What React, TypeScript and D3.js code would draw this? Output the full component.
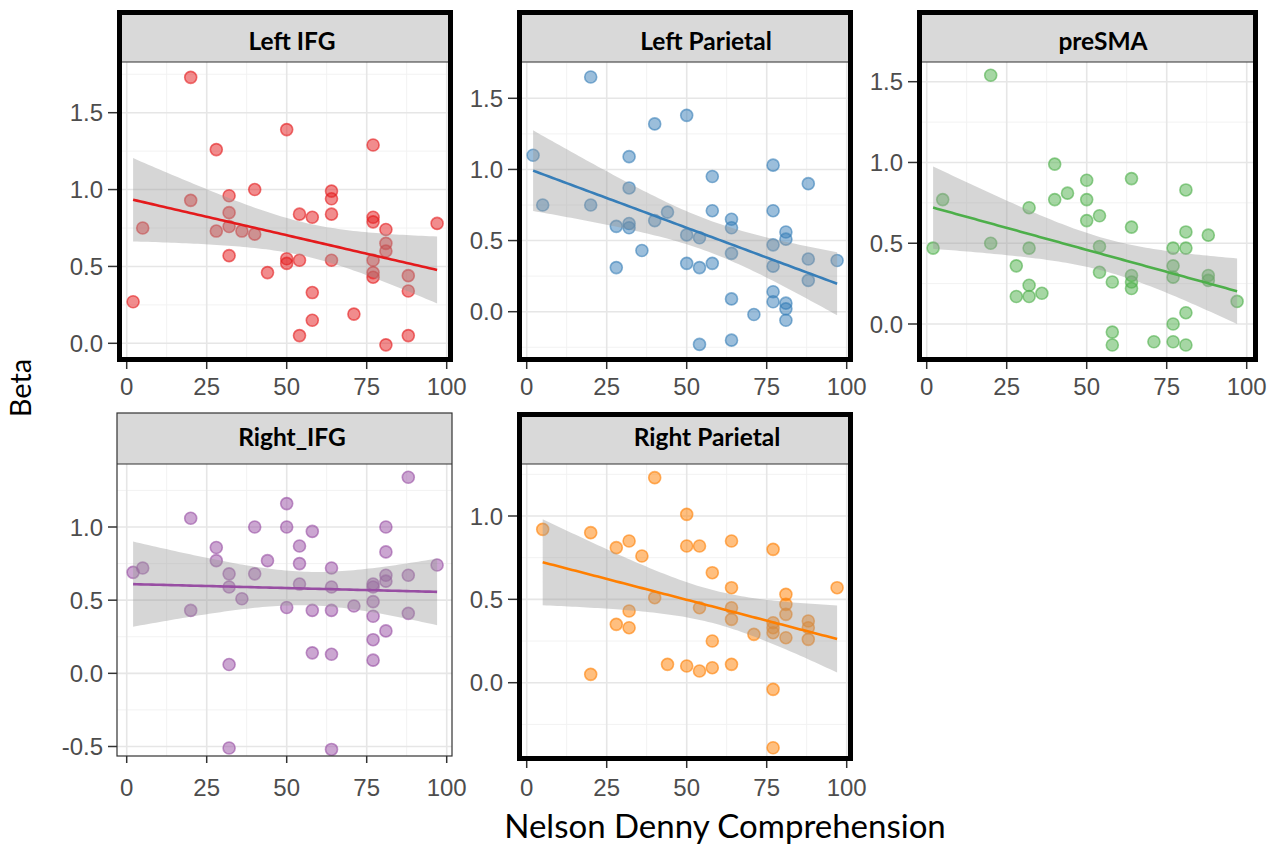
import React from "react";
import * as d3 from "d3";

// Nelson Denny percentile (x) and beta (y) for each region
const leftIfgX = [2, 5, 20, 20, 28, 28, 32, 32, 32, 32, 36, 40, 40, 44, 50, 50, 50, 54, 54, 54, 58, 58, 58, 64, 64, 64, 64, 71, 77, 77, 77, 77, 77, 77, 81, 81, 81, 81, 88, 88, 88, 97];
const leftIfgY = [0.27, 0.75, 1.73, 0.93, 1.26, 0.73, 0.96, 0.85, 0.76, 0.57, 0.73, 1.0, 0.71, 0.46, 1.39, 0.55, 0.52, 0.84, 0.54, 0.05, 0.82, 0.33, 0.15, 0.99, 0.94, 0.84, 0.54, 0.19, 1.29, 0.82, 0.79, 0.54, 0.46, 0.43, 0.74, 0.65, 0.6, -0.01, 0.44, 0.34, 0.05, 0.78];

const leftParX = [2, 5, 20, 20, 28, 28, 32, 32, 32, 32, 36, 40, 40, 44, 50, 50, 50, 54, 54, 54, 58, 58, 58, 64, 64, 64, 64, 64, 71, 77, 77, 77, 77, 77, 77, 81, 81, 81, 81, 81, 88, 88, 88, 97];
const leftParY = [1.1, 0.75, 1.65, 0.75, 0.6, 0.31, 1.09, 0.87, 0.62, 0.59, 0.43, 1.32, 0.64, 0.7, 1.38, 0.54, 0.34, 0.52, 0.31, -0.23, 0.95, 0.71, 0.34, 0.65, 0.59, 0.41, 0.09, -0.2, -0.02, 1.03, 0.71, 0.47, 0.32, 0.14, 0.07, 0.56, 0.51, 0.06, 0.02, -0.06, 0.9, 0.37, 0.22, 0.36];

const preSmaX = [2, 5, 20, 20, 28, 28, 32, 32, 32, 32, 36, 40, 40, 44, 50, 50, 50, 54, 54, 54, 58, 58, 58, 64, 64, 64, 64, 64, 71, 77, 77, 77, 77, 77, 81, 81, 81, 81, 81, 88, 88, 88, 97];
const preSmaY = [0.47, 0.77, 1.54, 0.5, 0.36, 0.17, 0.72, 0.47, 0.24, 0.17, 0.19, 0.99, 0.77, 0.81, 0.89, 0.77, 0.64, 0.67, 0.48, 0.32, 0.26, -0.05, -0.13, 0.9, 0.6, 0.3, 0.26, 0.22, -0.11, 0.47, 0.36, 0.29, 0.0, -0.11, 0.83, 0.57, 0.47, 0.07, -0.13, 0.55, 0.3, 0.27, 0.14];

const rightIfgX = [2, 5, 20, 20, 28, 28, 32, 32, 32, 32, 36, 40, 40, 44, 50, 50, 50, 54, 54, 54, 58, 58, 58, 64, 64, 64, 64, 64, 71, 77, 77, 77, 77, 77, 77, 81, 81, 81, 81, 81, 88, 88, 88, 97];
const rightIfgY = [0.69, 0.72, 1.06, 0.43, 0.86, 0.77, 0.68, 0.59, 0.06, -0.51, 0.51, 1.0, 0.68, 0.77, 1.16, 1.0, 0.45, 0.87, 0.75, 0.61, 0.97, 0.43, 0.14, 0.72, 0.59, 0.43, 0.13, -0.52, 0.46, 0.61, 0.59, 0.49, 0.39, 0.23, 0.09, 1.0, 0.83, 0.67, 0.63, 0.29, 1.34, 0.67, 0.41, 0.74];

const rightParX = [5, 20, 20, 28, 28, 32, 32, 32, 36, 40, 40, 44, 50, 50, 50, 54, 54, 54, 58, 58, 58, 64, 64, 64, 64, 64, 71, 77, 77, 77, 77, 77, 77, 81, 81, 81, 81, 88, 88, 88, 97];
const rightParY = [0.92, 0.9, 0.05, 0.81, 0.35, 0.85, 0.43, 0.33, 0.76, 1.23, 0.51, 0.11, 1.01, 0.82, 0.1, 0.82, 0.45, 0.07, 0.66, 0.25, 0.09, 0.85, 0.57, 0.45, 0.38, 0.11, 0.29, 0.8, 0.36, 0.33, 0.3, -0.04, -0.39, 0.53, 0.47, 0.41, 0.27, 0.37, 0.33, 0.26, 0.57];

const xTicks = [0, 25, 50, 75, 100];

const panels = [
  { name: "Left IFG", xs: leftIfgX, ys: leftIfgY, color: "#E41A1C", yTicks: [0, 0.5, 1.0, 1.5],
    box: [117, 10, 453, 362], thick: true, strip: 62, xPx: [126.7, 446.7], yDom: [0, 1.5], yPx: [343.3, 112.7], labelX: 292, labelY: 50, tickY: 395 },
  { name: "Left Parietal", xs: leftParX, ys: leftParY, color: "#377EB8", yTicks: [0, 0.5, 1.0, 1.5],
    box: [517, 10, 853, 362], thick: true, strip: 62, xPx: [526.7, 846.7], yDom: [0, 1.5], yPx: [311.7, 98.3], labelX: 706, labelY: 50, tickY: 395 },
  { name: "preSMA", xs: preSmaX, ys: preSmaY, color: "#4DAF4A", yTicks: [0, 0.5, 1.0, 1.5],
    box: [917, 10, 1258, 362], thick: true, strip: 62, xPx: [926.7, 1246.7], yDom: [0, 1.5], yPx: [324, 81.7], labelX: 1103, labelY: 50, tickY: 395 },
  { name: "Right_IFG", xs: rightIfgX, ys: rightIfgY, color: "#984EA3", yTicks: [-0.5, 0, 0.5, 1.0],
    box: [117, 413, 452, 756], thick: false, strip: 464, xPx: [126.7, 446.7], yDom: [-0.5, 1.0], yPx: [746.5, 527], labelX: 292, labelY: 446, tickY: 796 },
  { name: "Right Parietal", xs: rightParX, ys: rightParY, color: "#FF7F00", yTicks: [0, 0.5, 1.0],
    box: [517, 412, 853, 761], thick: true, strip: 464, xPx: [526.7, 846.7], yDom: [0, 1.0], yPx: [682.7, 516], labelX: 707, labelY: 446, tickY: 796 },
];

// lm fit with 95% confidence band, like geom_smooth(method = "lm")
function fitLm(xs, ys) {
  const n = xs.length;
  const mx = d3.mean(xs), my = d3.mean(ys);
  const sxx = d3.sum(xs, (x) => (x - mx) ** 2);
  const sxy = d3.sum(xs, (x, i) => (x - mx) * (ys[i] - my));
  const b = sxy / sxx, a = my - b * mx;
  const sse = d3.sum(xs, (x, i) => (ys[i] - a - b * x) ** 2);
  const s = Math.sqrt(sse / (n - 2));
  const df = n - 2, z = 1.96;
  const t = z + (z ** 3 + z) / (4 * df) + (5 * z ** 5 + 16 * z ** 3 + 3 * z) / (96 * df * df);
  const [x0, x1] = d3.extent(xs);
  const grid = d3.range(81).map((i) => x0 + ((x1 - x0) * i) / 80);
  return grid.map((x) => {
    const fit = a + b * x;
    const se = s * Math.sqrt(1 / n + (x - mx) ** 2 / sxx);
    return { x, fit, lo: fit - t * se, hi: fit + t * se };
  });
}

// plain hyphen for negatives, as R prints them
const tickFmt = (v) => v.toFixed(1);

function Panel({ p, idx }) {
  const [L, T, R, B] = p.box;
  const bw = p.thick ? 5 : 0;
  const inner = { l: L + bw, r: R - bw, t: p.strip, b: B - bw };
  const x = d3.scaleLinear().domain([0, 100]).range(p.xPx);
  const y = d3.scaleLinear().domain(p.yDom).range(p.yPx);
  const step = p.yTicks[1] - p.yTicks[0];
  const minorY = d3.range(p.yTicks[0] - step / 2, p.yTicks[p.yTicks.length - 1] + step, step);
  const minorX = [-12.5, 12.5, 37.5, 62.5, 87.5, 112.5];
  const band = fitLm(p.xs, p.ys);
  const area = d3.area().x((d) => x(d.x)).y0((d) => y(d.lo)).y1((d) => y(d.hi));
  const line = d3.line().x((d) => x(d.x)).y((d) => y(d.fit));
  const clipId = `clip${idx}`;
  const pts = p.xs.map((v, i) => [v, p.ys[i]]);

  return (
    <g>
      <defs>
        <clipPath id={clipId}>
          <rect x={inner.l} y={inner.t} width={inner.r - inner.l} height={inner.b - inner.t} />
        </clipPath>
      </defs>
      <rect x={L} y={T} width={R - L} height={B - T} fill="#fff" />
      <g clipPath={`url(#${clipId})`}>
        {minorY.map((v) => (
          <line key={"my" + v} x1={inner.l} x2={inner.r} y1={y(v)} y2={y(v)} stroke="#F2F2F2" strokeWidth={1} />
        ))}
        {minorX.map((v) => (
          <line key={"mx" + v} y1={inner.t} y2={inner.b} x1={x(v)} x2={x(v)} stroke="#F2F2F2" strokeWidth={1} />
        ))}
        {p.yTicks.map((v) => (
          <line key={"gy" + v} x1={inner.l} x2={inner.r} y1={y(v)} y2={y(v)} stroke="#E6E6E6" strokeWidth={1.6} />
        ))}
        {xTicks.map((v) => (
          <line key={"gx" + v} y1={inner.t} y2={inner.b} x1={x(v)} x2={x(v)} stroke="#E6E6E6" strokeWidth={1.6} />
        ))}
        {pts.map(([a, b], i) => (
          <circle key={i} cx={x(a)} cy={y(b)} r={6} fill={p.color} fillOpacity={0.5}
            stroke={p.color} strokeOpacity={0.6} strokeWidth={1.6} />
        ))}
        <path d={area(band)} fill="#999999" fillOpacity={0.4} />
        <path d={line(band)} fill="none" stroke={p.color} strokeWidth={2.6} />
      </g>

      {/* strip */}
      <rect x={L + bw} y={T + bw} width={R - L - 2 * bw} height={p.strip - T - bw} fill="#D9D9D9" />
      <line x1={L} x2={R} y1={p.strip} y2={p.strip} stroke="#333" strokeWidth={1.2} />
      <text x={p.labelX} y={p.labelY} textAnchor="middle" fontFamily="Lato, 'Open Sans', sans-serif"
        fontWeight="bold" fontSize={24.5} fill="#000">{p.name}</text>

      {p.thick ? (
        <rect x={L + 2.5} y={T + 2.5} width={R - L - 5} height={B - T - 5} fill="none" stroke="#000" strokeWidth={5} />
      ) : (
        <rect x={L} y={T} width={R - L} height={B - T} fill="none" stroke="#333" strokeWidth={1.2} />
      )}

      {/* axes */}
      {p.yTicks.map((v) => (
        <g key={"ty" + v}>
          <line x1={L - 9} x2={L} y1={y(v)} y2={y(v)} stroke="#333" strokeWidth={1.5} />
          <text x={L - 14} y={y(v)} dy="0.36em" textAnchor="end" fontFamily="'Liberation Sans', Arial, sans-serif"
            fontSize={24} fill="#4D4D4D">{tickFmt(v)}</text>
        </g>
      ))}
      {xTicks.map((v) => (
        <g key={"tx" + v}>
          <line x1={x(v)} x2={x(v)} y1={B} y2={B + 7} stroke="#333" strokeWidth={1.5} />
          <text x={x(v)} y={p.tickY} textAnchor="middle" fontFamily="'Liberation Sans', Arial, sans-serif"
            fontSize={24} fill="#4D4D4D">{v}</text>
        </g>
      ))}
    </g>
  );
}

export default function App() {
  return (
    <svg width={1270} height={848} style={{ position: "absolute", left: 0, top: 0, background: "#fff" }}>
      <rect width={1270} height={848} fill="#fff" />
      {panels.map((p, i) => (
        <Panel key={p.name} p={p} idx={i} />
      ))}
      <text transform="translate(31,388) rotate(-90)" textAnchor="middle" fontFamily="Lato, 'Open Sans', sans-serif"
        fontSize={29} fill="#000">Beta</text>
      <text x={725} y={838} textAnchor="middle" fontFamily="Lato, 'Open Sans', sans-serif" fontSize={33} fill="#000">
        Nelson Denny Comprehension
      </text>
    </svg>
  );
}
